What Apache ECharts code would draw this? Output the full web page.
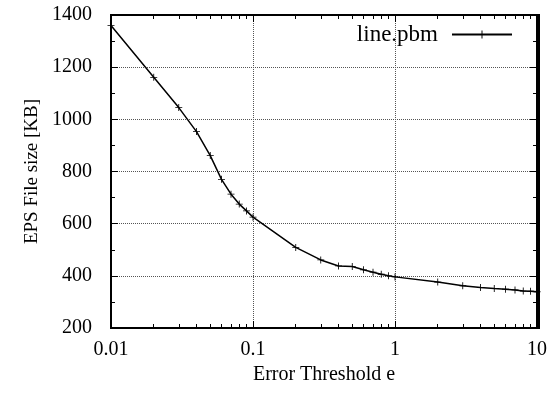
<!DOCTYPE html>
<html><head><meta charset="utf-8">
<script src="https://cdn.jsdelivr.net/npm/echarts@6/dist/echarts.min.js"></script>
<style>html,body{margin:0;padding:0;background:#fff}#c{width:550px;height:397px}</style>
</head><body><div id="c"></div>
<script>
// Data
const seriesName = 'line.pbm';
const thresholds = [0.01, 0.02, 0.03, 0.04, 0.05, 0.06, 0.07, 0.08, 0.09,
                    0.1, 0.2, 0.3, 0.4, 0.5, 0.6, 0.7, 0.8, 0.9,
                    1, 2, 3, 4, 5, 6, 7, 8, 9, 10];
const fileSizeKB = [1360, 1161, 1045, 953, 861, 770, 713, 675, 649,
                    625, 509, 461, 438, 436, 423, 414, 406, 400,
                    396, 376, 362, 355, 351, 349, 346, 342, 341, 339];
const xMin = 0.01, xMax = 10;
const yMin = 200, yMax = 1400, yStep = 200;
const xLabel = 'Error Threshold e';
const yLabel = 'EPS File size [KB]';

const seriesData = thresholds.map((t, i) => [t, fileSizeKB[i]]);
const FONT = '"Liberation Serif", "Times New Roman", serif';
const plusPath = 'path://M0,4.4H10V5.6H0Z M4.4,0H5.6V10H4.4Z';
const G = { left: 111, right: 11, top: 15, bottom: 69 };

function fmtX(v) {
  const p = Math.round(Math.log10(v));
  return p < 0 ? v.toFixed(-p) : String(Math.round(v));
}

function xAxisCfg(pos, withLabels) {
  return {
    type: 'log', logBase: 10, min: xMin, max: xMax, position: pos,
    axisLine: { show: true, onZero: false, lineStyle: { color: '#000', width: 2 } },
    axisTick: { show: true, inside: true, length: 7, lineStyle: { color: '#000', width: 1 } },
    minorTick: { show: true, splitNumber: 9, length: 4, lineStyle: { color: '#000', width: 1 } },
    axisLabel: { show: withLabels, formatter: fmtX, color: '#000', fontFamily: FONT, fontSize: 20, margin: 12 },
    splitLine: { show: withLabels, lineStyle: { color: '#555', type: 'dotted', width: 1 } },
    name: withLabels ? xLabel : '', nameLocation: 'middle', nameGap: 36,
    nameTextStyle: { color: '#000', fontFamily: FONT, fontSize: 20 }
  };
}
function yAxisCfg(pos, withLabels) {
  return {
    type: 'value', min: yMin, max: yMax, interval: yStep, position: pos,
    axisLine: { show: true, onZero: false, lineStyle: { color: '#000', width: 2 } },
    axisTick: { show: true, inside: true, length: 7, lineStyle: { color: '#000', width: 1 } },
    minorTick: { show: true, splitNumber: 2, length: 4, lineStyle: { color: '#000', width: 1 } },
    axisLabel: { show: withLabels, formatter: v => String(v), color: '#000', fontFamily: FONT, fontSize: 20, margin: 19 },
    splitLine: { show: withLabels, lineStyle: { color: '#555', type: 'dotted', width: 1 } },
    name: withLabels ? yLabel : '', nameLocation: 'middle', nameGap: 64, nameRotate: 90,
    nameTextStyle: { color: '#000', fontFamily: FONT, fontSize: 19 }
  };
}

const W = 550, H = 397;
const chart = echarts.init(document.getElementById('c'));
chart.setOption({
  animation: false,
  grid: Object.assign({ show: true, borderColor: '#000', borderWidth: 2 }, G),
  graphic: [{
    type: 'rect', z: 100, silent: true,
    shape: { x: G.left, y: G.top, width: W - G.left - G.right, height: H - G.top - G.bottom },
    style: { fill: 'none', stroke: '#000', lineWidth: 2 }
  }],
  legend: {
    data: [seriesName], top: 18, right: 32, align: 'right',
    itemWidth: 60, itemHeight: 10,
    textStyle: { color: '#000', fontFamily: FONT, fontSize: 23, padding: [0, 9, 0, 0] }
  },
  xAxis: [xAxisCfg('bottom', true), xAxisCfg('top', false)],
  yAxis: [yAxisCfg('left', true), yAxisCfg('right', false)],
  series: [{
    name: seriesName, type: 'line', xAxisIndex: 0, yAxisIndex: 0,
    data: seriesData,
    symbol: plusPath, symbolSize: 7, showSymbol: true,
    lineStyle: { color: '#000', width: 1.5 },
    itemStyle: { color: '#000' }
  }]
});
</script></body></html>
